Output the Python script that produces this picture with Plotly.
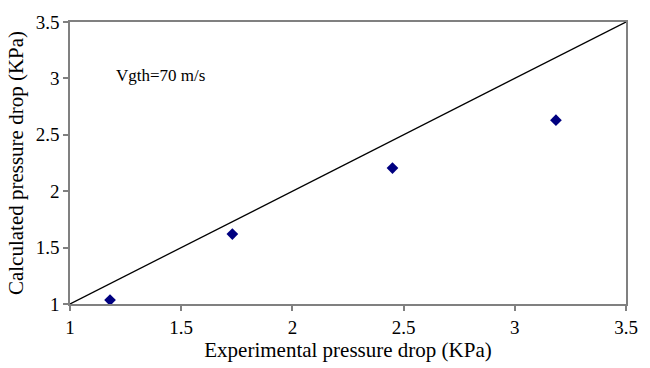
import plotly.graph_objects as go

exp_dp = [1.18, 1.73, 2.45, 3.185]
calc_dp = [1.035, 1.62, 2.205, 2.63]
line_x = [1.0, 3.5]
line_y = [1.0, 3.5]
tick_vals = [1, 1.5, 2, 2.5, 3, 3.5]
tick_text = ["1", "1.5", "2", "2.5", "3", "3.5"]

font_family = "Liberation Serif, Times New Roman, serif"

fig = go.Figure()
fig.add_trace(go.Scatter(x=line_x, y=line_y, mode="lines",
                         line=dict(color="black", width=1.3), showlegend=False))
fig.add_trace(go.Scatter(x=exp_dp, y=calc_dp, mode="markers",
                         marker=dict(symbol="diamond", color="#000080", size=9),
                         showlegend=False))

fig.add_annotation(x=1.197, y=3.03, text="Vgth=70 m/s", showarrow=False,
                   xanchor="left", yanchor="middle",
                   font=dict(family=font_family, size=17, color="black"))

axis_common = dict(showgrid=False, zeroline=False, showline=True, linecolor="#808080",
                   linewidth=1.5, mirror=True, ticks="outside", ticklen=5,
                   tickcolor="#808080", tickwidth=1.5,
                   tickfont=dict(family=font_family, size=19, color="black"),
                   tickvals=tick_vals, ticktext=tick_text, range=[1, 3.5])

fig.update_xaxes(**axis_common,
                 title=dict(text="Experimental pressure drop (KPa)", standoff=4,
                            font=dict(family=font_family, size=21, color="black")))
fig.update_yaxes(**axis_common,
                 title=dict(text="Calculated pressure drop (KPa)", standoff=6,
                            font=dict(family=font_family, size=21, color="black")))

fig.update_layout(width=650, height=368, plot_bgcolor="white", paper_bgcolor="white",
                  margin=dict(l=70, r=14, t=18, b=61))

fig.write_html("out.html")
